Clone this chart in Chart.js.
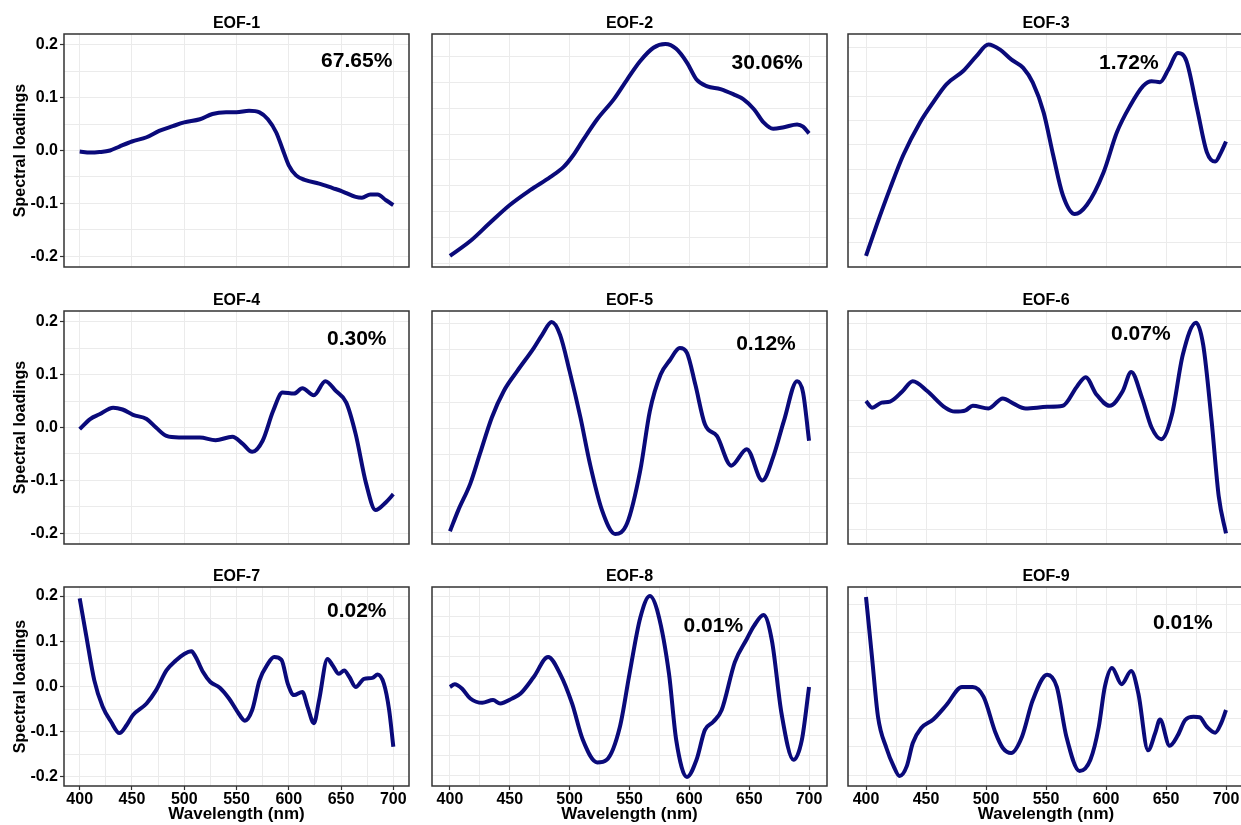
<!DOCTYPE html>
<html>
<head>
<meta charset="utf-8">
<script src="https://cdn.jsdelivr.net/npm/chart.js@4.4.1/dist/chart.umd.min.js"></script>
<style>
  html, body { margin: 0; padding: 0; background: #fff; overflow: hidden; }
  body { width: 1241px; height: 825px; position: relative; }
  canvas { position: absolute; }
</style>
</head>
<body>
<script>
// panel titles and explained variance
const titles = ['EOF-1', 'EOF-2', 'EOF-3', 'EOF-4', 'EOF-5', 'EOF-6', 'EOF-7', 'EOF-8', 'EOF-9'];
const percents = ['67.65%', '30.06%', '1.72%', '0.30%', '0.12%', '0.07%', '0.02%', '0.01%', '0.01%'];

const xTicks = [400, 450, 500, 550, 600, 650, 700];
const yTicks = [0.2, 0.15, 0.1, 0.05, 0, -0.05, -0.1, -0.15, -0.2];

// spectral loadings (wavelength in nm / loading)
const eof1Wl = [400, 410, 419, 429, 438, 450, 464, 476, 489, 500, 515, 527, 540, 550, 562, 572, 580, 588, 594, 600, 607, 616, 629, 642, 651, 664, 670, 678, 685, 693, 700];
const eof1 = [-0.002, -0.004, -0.003, 0.0, 0.0075, 0.017, 0.025, 0.037, 0.046, 0.053, 0.059, 0.069, 0.072, 0.072, 0.075, 0.072, 0.059, 0.034, 0.003, -0.028, -0.047, -0.056, -0.0625, -0.071, -0.077, -0.0875, -0.089, -0.083, -0.083, -0.094, -0.103];

const eof2Wl = [400, 417, 433, 450, 467, 484, 495, 503, 511, 523, 537, 548, 559, 570, 580, 589, 598, 606, 615, 626, 637, 645, 654, 662, 670, 679, 690, 695, 700];
const eof2 = [-0.199, -0.171, -0.1375, -0.103, -0.075, -0.05, -0.031, -0.009, 0.019, 0.059, 0.097, 0.134, 0.169, 0.194, 0.201, 0.192, 0.166, 0.134, 0.121, 0.116, 0.106, 0.097, 0.078, 0.053, 0.041, 0.044, 0.049, 0.045, 0.0325];

const eof3Wl = [400, 409, 420, 431, 445, 456, 467, 481, 492, 502, 512, 521, 531, 539, 548, 556, 564, 574, 584, 598, 609, 620, 631, 638, 645, 652, 660, 667, 676, 684, 691, 696, 700];
const eof3 = [-0.199, -0.14, -0.072, -0.009, 0.053, 0.091, 0.125, 0.15, 0.178, 0.2, 0.19, 0.172, 0.156, 0.128, 0.072, -0.009, -0.084, -0.12, -0.103, -0.041, 0.034, 0.084, 0.122, 0.131, 0.129, 0.153, 0.184, 0.169, 0.078, -0.003, -0.021, -0.003, 0.017];

const eof4Wl = [400, 410, 419, 432, 441, 451, 464, 473, 483, 495, 515, 530, 546, 556, 565, 575, 585, 594, 605, 613, 624, 635, 645, 655, 664, 674, 683, 693, 700];
const eof4 = [-0.003, 0.016, 0.025, 0.0375, 0.034, 0.024, 0.016, 0.0, -0.016, -0.019, -0.019, -0.024, -0.0175, -0.031, -0.046, -0.025, 0.031, 0.066, 0.064, 0.074, 0.061, 0.0875, 0.069, 0.047, -0.0125, -0.106, -0.156, -0.141, -0.126];

const eof5Wl = [400, 407, 417, 425, 435, 445, 456, 470, 477, 485, 492, 500, 509, 517, 527, 538, 548, 559, 567, 576, 584, 592, 598, 605, 613, 623, 635, 648, 661, 670, 679, 690, 695, 700];
const eof5 = [-0.196, -0.156, -0.106, -0.05, 0.019, 0.069, 0.106, 0.15, 0.175, 0.199, 0.175, 0.106, 0.019, -0.069, -0.156, -0.201, -0.181, -0.081, 0.031, 0.1, 0.128, 0.15, 0.141, 0.081, 0.006, -0.016, -0.072, -0.041, -0.1, -0.056, 0.0125, 0.0875, 0.066, -0.025];

const eof6Wl = [400, 405, 413, 420, 430, 439, 451, 466, 474, 483, 489, 502, 514, 523, 533, 551, 564, 576, 583, 592, 603, 614, 621, 630, 638, 646, 655, 664, 675, 681, 688, 694, 700];
const eof6 = [0.05, 0.0375, 0.047, 0.049, 0.0675, 0.0875, 0.069, 0.0375, 0.03, 0.0325, 0.041, 0.036, 0.055, 0.045, 0.036, 0.039, 0.041, 0.078, 0.095, 0.0625, 0.041, 0.069, 0.105, 0.056, 0.0, -0.022, 0.025, 0.1375, 0.198, 0.156, 0.0125, -0.131, -0.2];

const eof7Wl = [400, 406, 414, 422, 430, 438, 445, 451, 464, 473, 483, 492, 500, 507, 511, 518, 525, 534, 543, 551, 558, 565, 572, 580, 586, 593, 599, 605, 613, 618, 624, 629, 637, 642, 648, 653, 658, 664, 672, 680, 685, 691, 696, 700];
const eof7 = [0.195, 0.116, 0.0135, -0.045, -0.078, -0.103, -0.085, -0.063, -0.0375, -0.0085, 0.0355, 0.0575, 0.072, 0.078, 0.065, 0.032, 0.01, -0.0025, -0.027, -0.056, -0.0755, -0.052, 0.0135, 0.05, 0.065, 0.059, 0.0065, -0.019, -0.012, -0.045, -0.081, -0.03, 0.061, 0.0465, 0.028, 0.0355, 0.021, -0.001, 0.017, 0.019, 0.0265, 0.006, -0.052, -0.133];

const eof8Wl = [400, 404, 410, 417, 427, 436, 442, 452, 459, 470, 482, 492, 502, 511, 523, 531, 542, 550, 559, 567, 574, 583, 589, 598, 606, 613, 620, 627, 638, 648, 654, 662, 669, 677, 687, 694, 700];
const eof8 = [-0.001, 0.005, -0.0045, -0.0265, -0.036, -0.03, -0.0375, -0.0265, -0.0155, 0.021, 0.065, 0.028, -0.0375, -0.118, -0.168, -0.162, -0.089, 0.028, 0.152, 0.2, 0.16, 0.028, -0.118, -0.2, -0.162, -0.096, -0.078, -0.052, 0.054, 0.105, 0.134, 0.158, 0.101, -0.0595, -0.162, -0.118, -0.001];

const eof9Wl = [400, 405, 410, 417, 423, 428, 434, 439, 446, 456, 467, 480, 489, 498, 508, 514, 521, 530, 539, 551, 559, 567, 578, 587, 594, 599, 605, 613, 621, 627, 635, 641, 645, 653, 660, 666, 673, 678, 684, 691, 696, 700];
const eof9 = [0.198, 0.065, -0.067, -0.136, -0.176, -0.198, -0.176, -0.125, -0.092, -0.073, -0.041, -0.001, -0.001, -0.023, -0.103, -0.136, -0.147, -0.111, -0.03, 0.026, -0.001, -0.111, -0.187, -0.162, -0.089, -0.001, 0.041, 0.005, 0.034, -0.016, -0.141, -0.103, -0.073, -0.131, -0.107, -0.074, -0.067, -0.068, -0.089, -0.102, -0.081, -0.052];

const waves = [eof1Wl, eof2Wl, eof3Wl, eof4Wl, eof5Wl, eof6Wl, eof7Wl, eof8Wl, eof9Wl];
const loads = [eof1, eof2, eof3, eof4, eof5, eof6, eof7, eof8, eof9];

// where the percentage sits inside each panel (data units)
const labelAt = [[665, 0.168], [665, 0.164], [619, 0.164], [665, 0.166], [664, 0.157], [629, 0.176], [665, 0.167], [620, 0.134], [664, 0.141]];

// horizontal grid of each facet (free y scales): first line and spacing
const gridStart = [null, 0.1775, 0.1944, null, 0.196, 0.196, null, 0.2, 0.1817];
const gridStep = [null, 0.0488, 0.0460, null, 0.0493, 0.0486, null, 0.0442, 0.0630];

// layout of the 3x3 grid
const colX = [0, 420, 835];
const colW = [420, 420, 410];
const yAxisW = [64, 12, 13];
const padRight = [11, 13, 1];
const rowY = [0, 277, 553];
const rowH = [275, 275, 272];

const navy = '#0a0a7a';
const FONT = '"Liberation Sans", Arial, Helvetica, sans-serif';
Chart.defaults.font.family = FONT;

function isMajorY(v) { return Math.abs(v * 10 - Math.round(v * 10)) < 1e-6; }

function gridValues(i) {
  if (gridStart[i] === null) return yTicks;
  const out = [];
  for (let v = gridStart[i]; v >= -0.215; v -= gridStep[i]) out.push(v);
  return out;
}

const framePlugin = {
  id: 'frame',
  afterDraw(chart, args, opts) {
    const { ctx, chartArea: a, scales } = chart;
    ctx.save();
    ctx.strokeStyle = '#333';
    ctx.lineWidth = 1.5;
    ctx.strokeRect(a.left, a.top, a.right - a.left, a.bottom - a.top);
    ctx.fillStyle = '#000';
    ctx.textAlign = 'center';
    ctx.textBaseline = 'middle';
    ctx.font = 'bold 16px ' + FONT;
    ctx.fillText(opts.title, (a.left + a.right) / 2, a.top - 10);
    ctx.font = 'bold 21px ' + FONT;
    ctx.fillText(opts.pct, scales.x.getPixelForValue(opts.at[0]), scales.y.getPixelForValue(opts.at[1]));
    ctx.restore();
  }
};

function makePanel(i) {
  const row = Math.floor(i / 3), col = i % 3;
  const firstCol = col === 0, lastRow = row === 2;
  const canvas = document.createElement('canvas');
  canvas.width = colW[col];
  canvas.height = rowH[row];
  canvas.style.left = colX[col] + 'px';
  canvas.style.top = rowY[row] + 'px';
  document.body.appendChild(canvas);

  const xGrid = [];
  for (let v = 400; v <= 700; v += lastRow ? 25 : 50) xGrid.push(v);

  new Chart(canvas, {
    type: 'line',
    data: {
      datasets: [{
        data: waves[i].map((x, k) => ({ x: x, y: loads[i][k] })),
        borderColor: navy,
        borderWidth: 4,
        borderJoinStyle: 'round',
        pointRadius: 0,
        cubicInterpolationMode: 'monotone',
        fill: false
      }]
    },
    options: {
      responsive: false,
      animation: false,
      devicePixelRatio: 1,
      layout: { padding: { top: 34, right: padRight[col], left: 0, bottom: 0 } },
      plugins: {
        legend: { display: false },
        tooltip: { enabled: false },
        frame: { title: titles[i], pct: percents[i], at: labelAt[i] }
      },
      scales: {
        x: {
          type: 'linear', min: 385, max: 715,
          border: { display: false },
          afterBuildTicks: s => { s.ticks = xGrid.map(v => ({ value: v })); },
          afterFit: s => { s.height = lastRow ? 39 : 8; s.paddingLeft = 0; s.paddingRight = 0; },
          grid: {
            color: '#ebebeb', lineWidth: 1,
            drawTicks: lastRow, tickLength: 4, tickWidth: 1.2,
            tickColor: c => (c.tick && c.tick.value % 50 === 0) ? '#333' : 'rgba(0,0,0,0)'
          },
          ticks: {
            display: lastRow, autoSkip: false, maxRotation: 0, padding: 0, color: '#000',
            font: { size: 16, weight: 'bold' },
            callback: v => v % 50 === 0 ? String(v) : ''
          },
          title: {
            display: lastRow, text: 'Wavelength (nm)', color: '#000',
            font: { size: 17, weight: 'bold', lineHeight: 1.1 },
            padding: { top: 0, bottom: 1 }
          }
        },
        y: {
          min: -0.22, max: 0.22,
          border: { display: false },
          afterBuildTicks: s => { s.ticks = gridValues(i).map(v => ({ value: v })); },
          afterFit: s => { s.width = yAxisW[col]; s.paddingTop = 0; s.paddingBottom = 0; },
          grid: {
            color: '#ebebeb', lineWidth: 1,
            drawTicks: firstCol, tickLength: 4, tickWidth: 1.2,
            tickColor: c => (c.tick && isMajorY(c.tick.value)) ? '#333' : 'rgba(0,0,0,0)'
          },
          ticks: {
            display: firstCol, padding: 2, color: '#000',
            font: { size: 16, weight: 'bold' },
            callback: v => isMajorY(v) ? v.toFixed(1) : ''
          },
          title: {
            display: firstCol, text: 'Spectral loadings', color: '#000',
            font: { size: 16, weight: 'bold', lineHeight: 1.2 },
            padding: { top: 11 }
          }
        }
      }
    },
    plugins: [framePlugin]
  });
}

for (let i = 0; i < 9; i++) makePanel(i);
</script>
</body>
</html>
